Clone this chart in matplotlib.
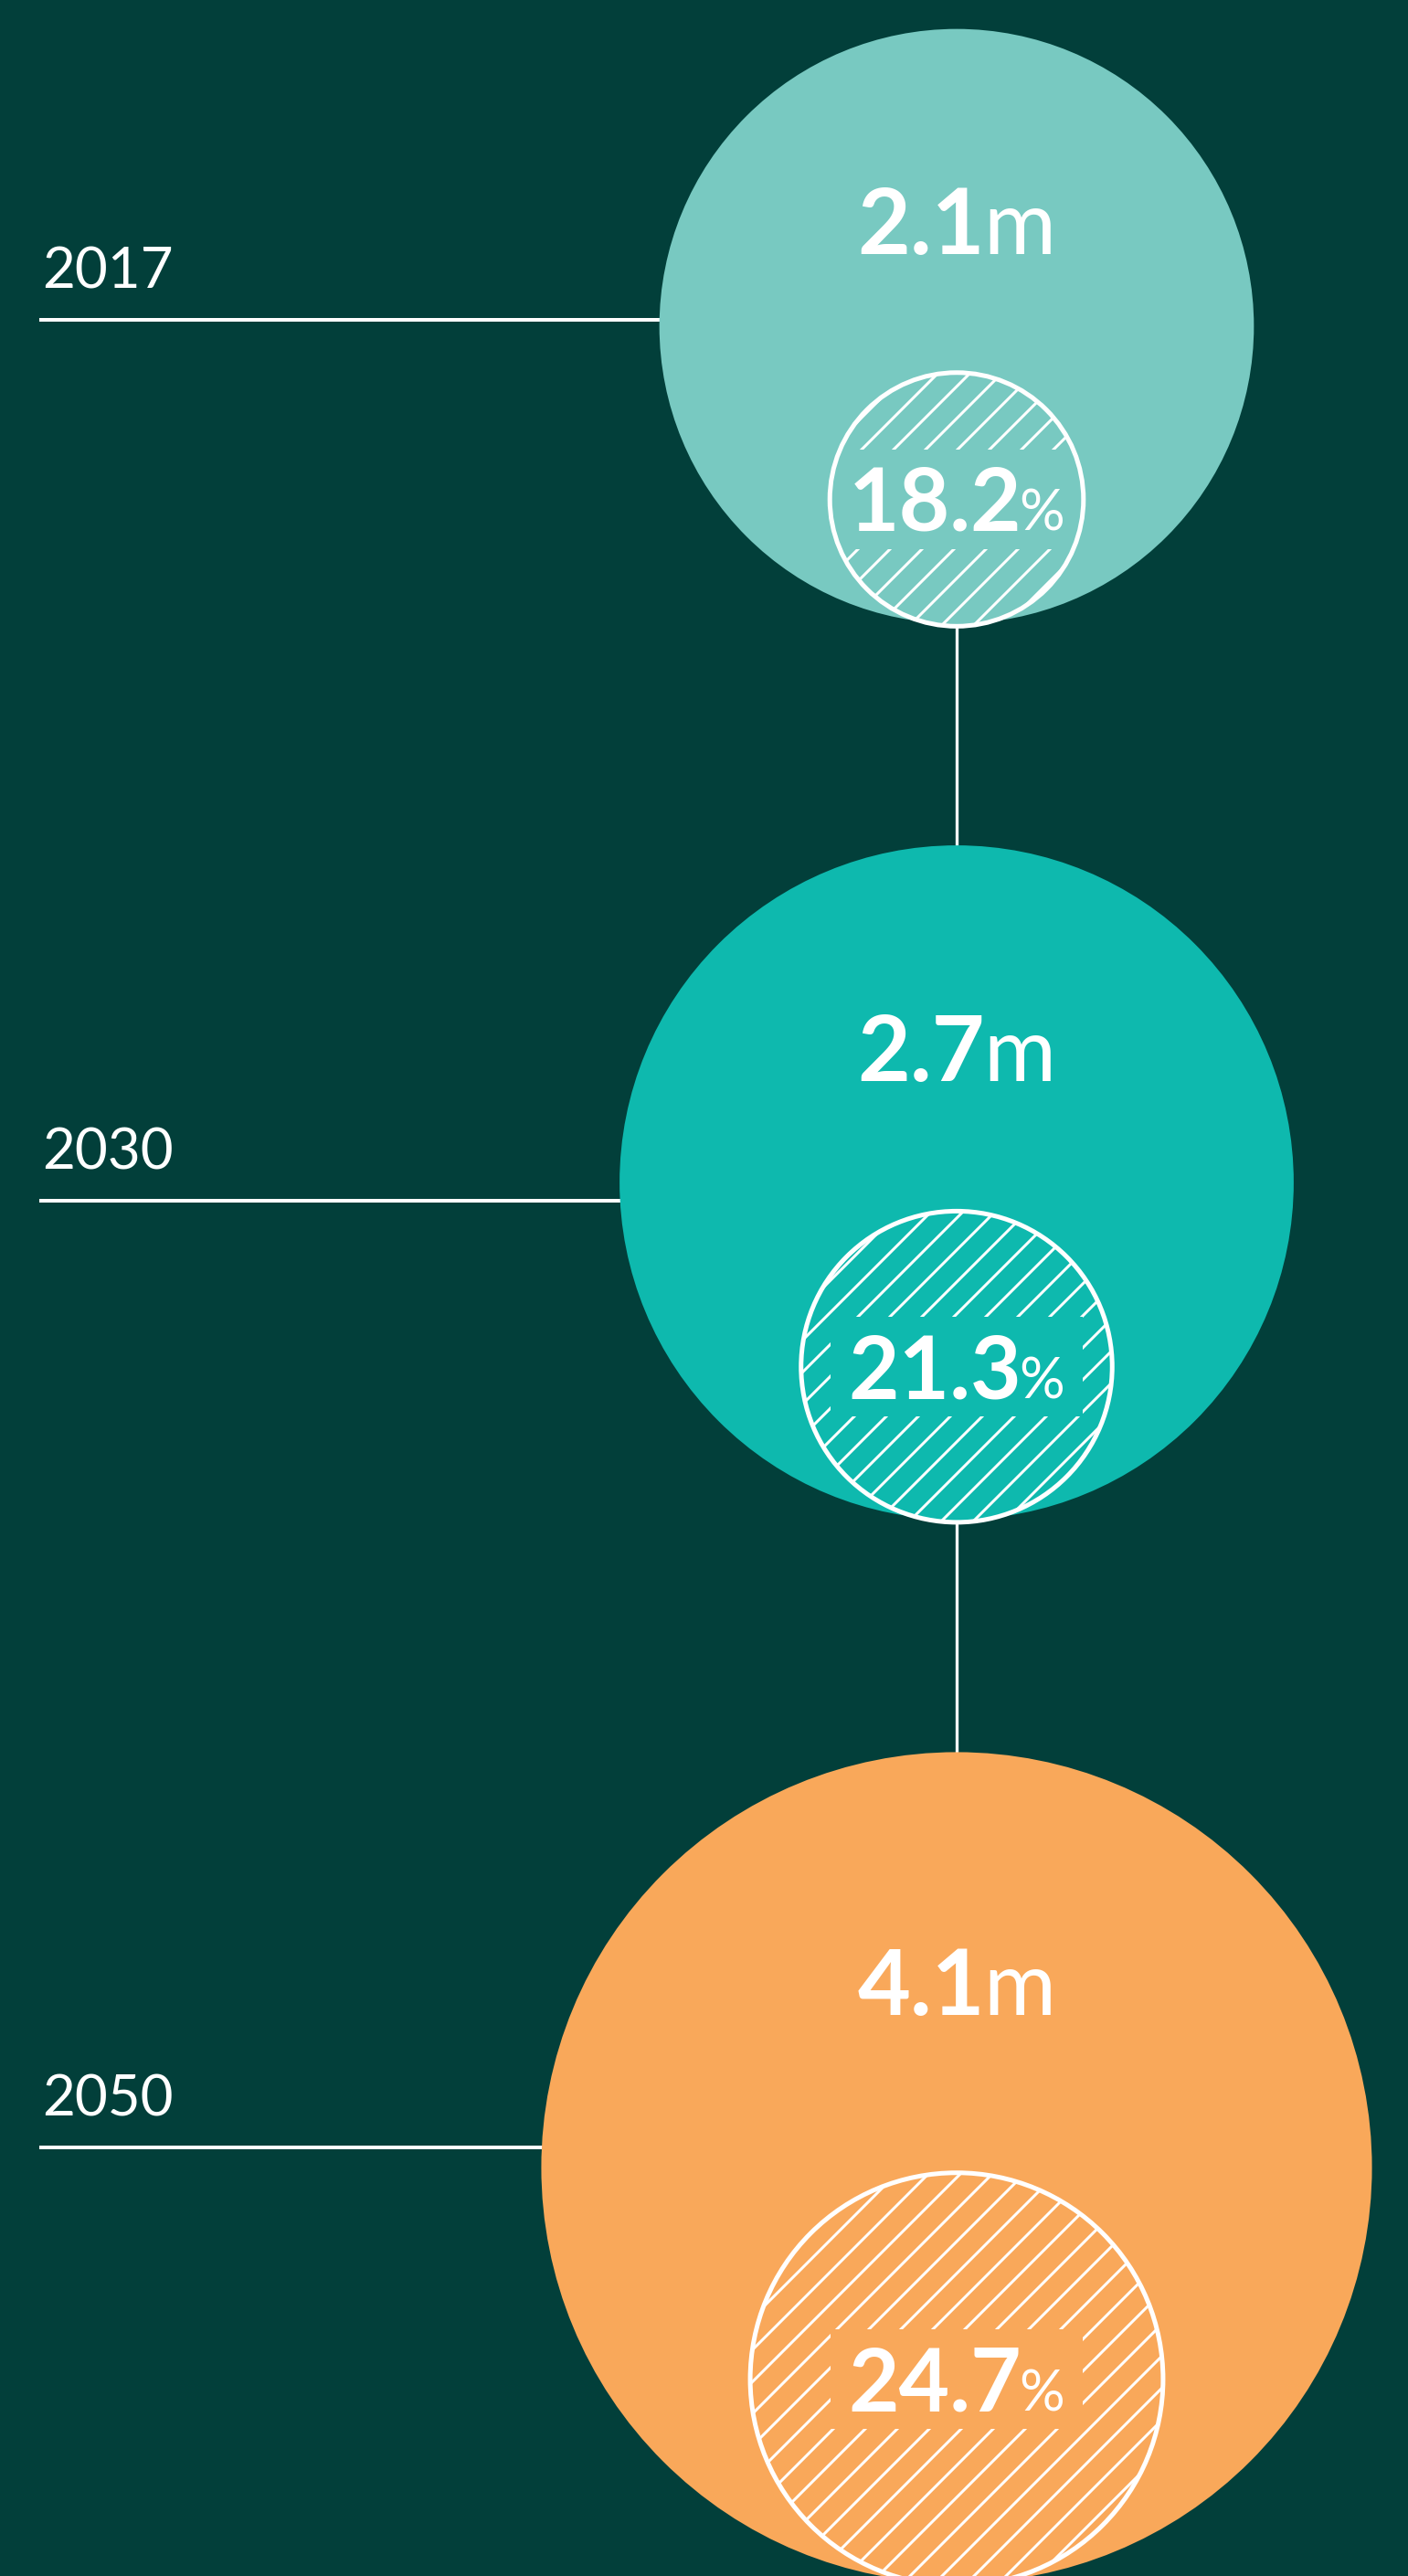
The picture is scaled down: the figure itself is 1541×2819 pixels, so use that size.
import matplotlib
matplotlib.use('Agg')
import matplotlib.pyplot as plt
from matplotlib.patches import Circle, Rectangle
import numpy as np

# data
years = ['2017', '2030', '2050']
population_m = [2.1, 2.7, 4.1]      # millions -> outer circle area
share_pct = [18.2, 21.3, 24.7]      # % -> inner circle area
circle_colors = ['#78C9C1', '#0EB9AE', '#F9A85A']

# layout (pixels)
BG = '#023F3A'
W, H, DPI = 1541, 2819, 105          # dpi 105 -> '/' hatch spacing ~35px
CX = 1047
CY = [357, 1294, 2372]
YEAR_LINE_Y = [350, 1314, 2350]
LINE_X0 = 43
R_SCALE = 224.5


def pt(p):
    # pixels -> points
    return p * 72 / DPI


plt.rcParams['font.family'] = ['Lato', 'DejaVu Sans']
plt.rcParams['hatch.linewidth'] = pt(3)

fig = plt.figure(figsize=(W / DPI, H / DPI), dpi=DPI, facecolor=BG)
ax = fig.add_axes([0, 0, 1, 1])
ax.set_xlim(0, W)
ax.set_ylim(H, 0)
ax.axis('off')
renderer = fig.canvas.get_renderer()


def two_part_label(x, y_mid, big, small, size, small_size, gap, box=None, clip=None):
    cap = 0.7165 * size
    base = y_mid + cap / 2
    t1 = ax.text(0, base, big, fontsize=pt(size), fontweight='bold', color='white',
                 ha='left', va='baseline', zorder=7)
    t2 = ax.text(0, base, small, fontsize=pt(small_size), color='white',
                 ha='left', va='baseline', zorder=7)
    w1 = t1.get_window_extent(renderer).width
    w2 = t2.get_window_extent(renderer).width
    left = x - (w1 + gap + w2) / 2
    t1.set_x(left)
    t2.set_x(left + w1 + gap)
    if box is not None:
        pad = 20
        rect = Rectangle((left - pad, y_mid - cap / 2 - pad), w1 + gap + w2 + 2 * pad,
                         cap + 2 * pad, fc=box, ec='none', zorder=5)
        ax.add_patch(rect)
        if clip is not None:
            rect.set_clip_path(clip)


# vertical connector
ax.plot([CX, CX], [CY[0], CY[-1]], color='white', lw=pt(3.3), zorder=1)

for i in range(len(years)):
    R = R_SCALE * np.sqrt(population_m[i])
    r = R * np.sqrt(share_pct[i] / 100)
    cy_in = CY[i] + R - r + 3
    col = circle_colors[i]

    ax.add_patch(Circle((CX, CY[i]), R, fc=col, ec='none', zorder=2))
    inner = Circle((CX, cy_in), r, fc=col, ec='white', lw=0, hatch='/', zorder=3)
    ax.add_patch(inner)
    ax.add_patch(Circle((CX, cy_in), r, fill=False, ec='white', lw=pt(5), zorder=6))

    ax.plot([LINE_X0, CX], [YEAR_LINE_Y[i]] * 2, color='white', lw=pt(4),
            solid_capstyle='butt', zorder=1)
    ax.text(LINE_X0 + 3, YEAR_LINE_Y[i] - 35, years[i], fontsize=pt(62), fontweight='normal',
            color='white', ha='left', va='baseline')

    y_main = (CY[i] - R + cy_in - r) / 2 + 22
    two_part_label(CX, y_main, f'{population_m[i]}', 'm', 100, 96, -2)
    two_part_label(CX, cy_in, f'{share_pct[i]}', '%', 96, 62, -3, box=col, clip=inner)

fig.savefig('out.png', dpi=DPI, facecolor=BG)
